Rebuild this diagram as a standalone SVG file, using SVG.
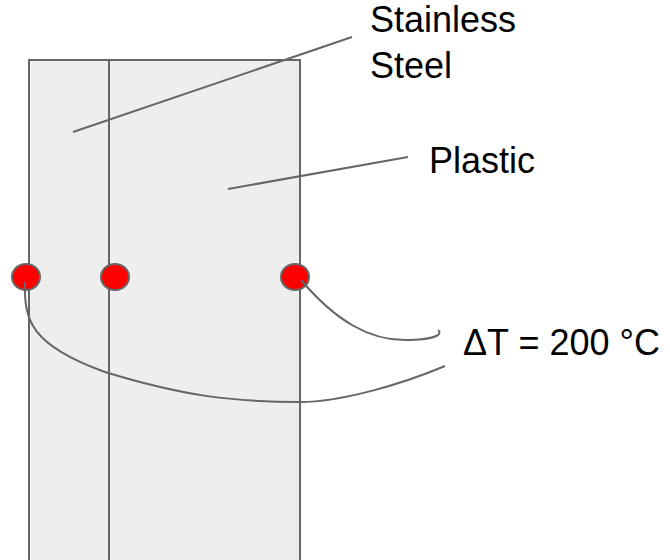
<svg xmlns="http://www.w3.org/2000/svg" width="670" height="560" viewBox="0 0 670 560">
<style>
.shape{fill:#eeeeee;stroke:#666666;stroke-width:2}
.line{fill:none;stroke:#666666;stroke-width:2}
.dot{fill:#ff0000;stroke:#666666;stroke-width:2}
.label{font-family:"Liberation Sans",Arial,sans-serif;font-size:36px;fill:#000000}
</style>
<rect width="670" height="560" fill="#ffffff"/>
<g id="block">
<rect class="shape" x="29" y="60" width="271" height="510"/>
<line class="line" x1="109" y1="60" x2="109" y2="570"/>
</g>
<g id="sensor-left"><ellipse class="dot" cx="26" cy="277" rx="14" ry="13"/></g>
<g id="sensor-middle"><ellipse class="dot" cx="115" cy="277" rx="14" ry="13"/></g>
<g id="sensor-right"><ellipse class="dot" cx="295" cy="277" rx="14" ry="13"/></g>
<g id="connectors">
<line class="line" x1="73" y1="132" x2="352" y2="37"/>
<line class="line" x1="228" y1="189" x2="408" y2="157"/>
<path class="line" d="M301,280 C335,320 370,342 410,340 C440,339 442,333 438,330"/>
<path class="line" d="M25,282 C24,320 30,345 105,372 C180,395 230,402 300,402 C340,402 400,385 445,366"/>
</g>
<g id="label-steel"><text class="label" x="370" y="32">Stainless</text><text class="label" x="370" y="78">Steel</text></g>
<g id="label-plastic"><text class="label" x="429" y="173">Plastic</text></g>
<g id="label-dt"><text class="label" x="463" y="355">ΔT = 200 °C</text></g>
</svg>
